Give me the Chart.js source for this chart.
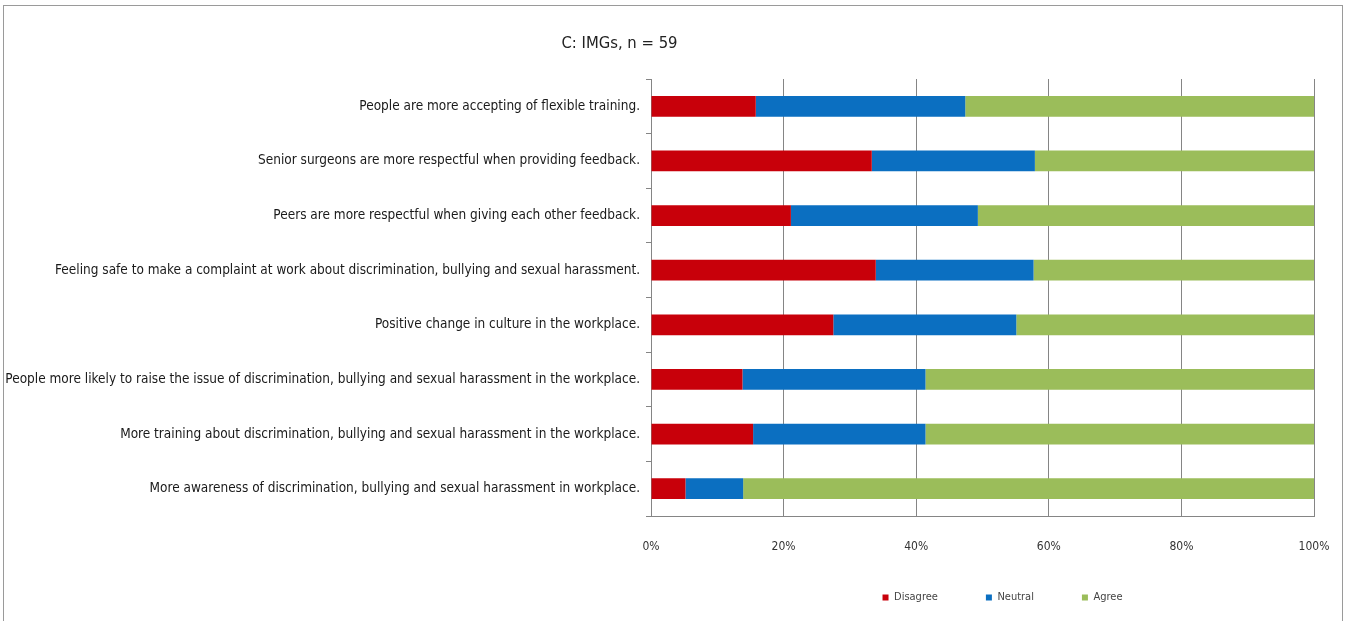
<!DOCTYPE html>
<html>
<head>
<meta charset="utf-8">
<script src="https://cdn.jsdelivr.net/npm/chart.js@4.4.1/dist/chart.umd.min.js"></script>
<style>
    html, body {
        margin: 0;
        padding: 0;
        background: #ffffff;
        overflow: hidden;
    }
    #frame {
        position: absolute;
        left: 3px;
        top: 5px;
        width: 1338px;
        height: 620px;
        border: 1px solid #9a9a9a;
        border-bottom: none;
        background: #ffffff;
    }
</style>
</head>
<body>
<div id="frame">
    <canvas id="surveyChart"></canvas>
</div>
<script>
// 题目(从上到下)
const categories = [
    'People are more accepting of flexible training.',
    'Senior surgeons are more respectful when providing feedback.',
    'Peers are more respectful when giving each other feedback.',
    'Feeling safe to make a complaint at work about discrimination, bullying and sexual harassment.',
    'Positive change in culture in the workplace.',
    'People more likely to raise the issue of discrimination, bullying and sexual harassment in the workplace.',
    'More training about discrimination, bullying and sexual harassment in the workplace.',
    'More awareness of discrimination, bullying and sexual harassment in workplace.'
];

// 百分比 (%)
const disagree = [15.8, 33.3, 21.1, 33.9, 27.5, 13.8, 15.4, 5.2];
const neutral = [31.6, 24.6, 28.2, 23.8, 27.6, 27.6, 26.0, 8.7];
const agree = [52.6, 42.1, 50.7, 42.3, 44.9, 58.6, 58.6, 86.1];

const xTicks = [0, 20, 40, 60, 80, 100];
const chartTitle = 'C: IMGs, n = 59';

const labelFont = "'Liberation Sans Narrow', 'DejaVu Sans Condensed', 'Arial Narrow', sans-serif";

// 标题不在画布正中,用一个小插件画
const titlePlugin = {
    id: 'offsetTitle',
    afterDraw(chart) {
        const ctx = chart.ctx;
        ctx.save();
        ctx.font = '16.5px ' + labelFont;
        ctx.fillStyle = '#222222';
        ctx.textAlign = 'center';
        ctx.textBaseline = 'middle';
        ctx.fillText(chartTitle, chart.width * 0.46, 38);
        ctx.restore();
    }
};

// 图例间距较大,把图例往上、往右挪一点
const legendNudge = {
    id: 'legendNudge',
    afterLayout(chart) {
        const lg = chart.legend;
        if (!lg) return;
        lg.top -= 8;
        lg.bottom -= 8;
        lg.left += 20;
        lg.right += 20;
    }
};

const ctx = document.getElementById('surveyChart');

new Chart(ctx, {
    type: 'bar',
    data: {
        labels: categories,
        datasets: [
            {
                label: 'Disagree',
                data: disagree,
                backgroundColor: '#c8000a',
                borderWidth: 0
            },
            {
                label: 'Neutral',
                data: neutral,
                backgroundColor: '#0b6fc1',
                borderWidth: 0
            },
            {
                label: 'Agree',
                data: agree,
                backgroundColor: '#9bbd5a',
                borderWidth: 0
            }
        ]
    },
    options: {
        indexAxis: 'y',
        responsive: true,
        maintainAspectRatio: false,
        animation: false,
        barPercentage: 0.38,
        categoryPercentage: 1,
        layout: {
            padding: { top: 73, right: 0, bottom: 5, left: 0 }
        },
        scales: {
            x: {
                stacked: true,
                min: 0,
                max: 100,
                afterBuildTicks: (scale) => {
                    scale.ticks = xTicks.map(v => ({ value: v }));
                },
                afterFit: (scale) => {
                    scale.height = 36;
                    scale.paddingLeft = 0;
                    scale.paddingRight = 28;
                },
                ticks: {
                    callback: (v) => v + '%',
                    font: { family: labelFont, size: 12 },
                    color: '#333333',
                    padding: 24,
                    maxRotation: 0
                },
                grid: {
                    color: '#858585',
                    lineWidth: 1,
                    drawTicks: false
                },
                border: { color: '#858585', width: 1 }
            },
            y: {
                stacked: true,
                afterFit: (scale) => {
                    scale.width = 647;
                },
                ticks: {
                    font: { family: labelFont, size: 13.5 },
                    color: '#1a1a1a',
                    padding: 6,
                    autoSkip: false
                },
                grid: {
                    drawOnChartArea: false,
                    drawTicks: true,
                    tickLength: 5,
                    color: '#858585'
                },
                border: { color: '#858585', width: 1 }
            }
        },
        plugins: {
            title: { display: false },
            tooltip: { enabled: false },
            legend: {
                position: 'bottom',
                fullSize: false,
                labels: {
                    boxWidth: 6,
                    boxHeight: 6,
                    padding: 48,
                    color: '#444444',
                    font: { family: labelFont, size: 11 }
                }
            }
        }
    },
    plugins: [titlePlugin, legendNudge]
});
</script>
</body>
</html>
